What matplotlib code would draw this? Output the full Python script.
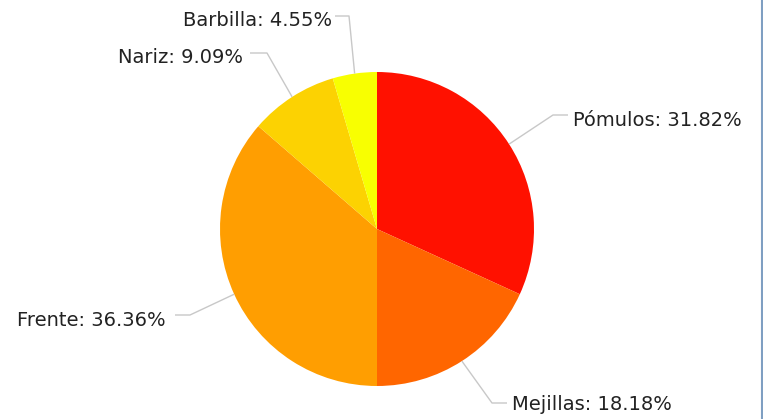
import numpy as np
import matplotlib
matplotlib.use("Agg")
import matplotlib.pyplot as plt

# === DATA ===
categories = ["Pómulos", "Mejillas", "Frente", "Nariz", "Barbilla"]
counts = [7, 4, 8, 2, 1]
colors = ["#FF1100", "#FF6600", "#FF9E01", "#FCD202", "#F8FF01"]

# === LAYOUT (pixels, y from top) ===
W, H = 763, 419
cx, cy, r = 377, 229, 157
# elbow point, line end x, text x, text y, alignment
label_layout = [
    (553, 115, 568, 573, 120, "left"),
    (492, 403, 507, 512, 405, "left"),
    (190, 315, 175, 166, 320, "right"),
    (267, 53, 250, 243, 57, "right"),
    (349, 16, 335, 332, 20, "right"),
]

def py(y):
    return H - y

fig = plt.figure(figsize=(W / 100, H / 100), dpi=100)
ax = fig.add_axes([0, 0, 1, 1])

wedges, _ = ax.pie(counts, colors=colors, center=(cx, py(cy)), radius=r,
                   startangle=90, counterclock=False, frame=True,
                   wedgeprops=dict(linewidth=0))

total = sum(counts)
for w, cat, n, lay in zip(wedges, categories, counts, label_layout):
    ang = np.deg2rad((w.theta1 + w.theta2) / 2)
    ex = cx + r * np.cos(ang)
    ey = py(cy) + r * np.sin(ang)
    bx, by, endx, tx, ty, ha = lay
    ax.plot([ex, bx, endx], [ey, py(by), py(by)], color="#c8c8c8", lw=1,
            solid_capstyle="butt")
    ax.text(tx, py(ty), f"{cat}: {100 * n / total:.2f}%", ha=ha, va="center",
            fontsize=14, color="#222222", family="DejaVu Sans")

# right border line
ax.plot([762, 762], [0, H], color="#7f9fc2", lw=1.5, clip_on=False)

ax.set_xlim(0, W)
ax.set_ylim(0, H)
ax.set_aspect("equal")
ax.axis("off")

fig.savefig("out.png", dpi=100)
